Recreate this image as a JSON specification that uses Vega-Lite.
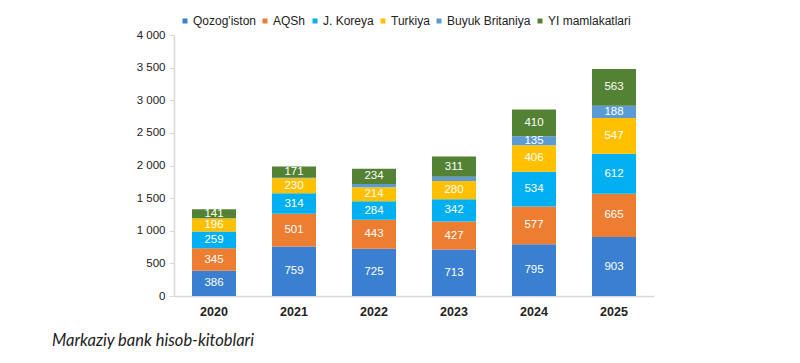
{
  "$schema": "https://vega.github.io/schema/vega-lite/v6.json",
  "autosize": {"type": "none"},
  "width": 480,
  "height": 261,
  "padding": {"left": 174, "top": 35, "right": 146, "bottom": 67},
  "background": "white",
  "config": {
    "view": {"stroke": null},
    "font": "Liberation Sans",
    "axis": {"labelFont": "Liberation Sans"},
    "legend": {"labelFont": "Liberation Sans"}
  },
  "title": {
    "text": "Markaziy bank hisob-kitoblari",
    "orient": "bottom",
    "anchor": "start",
    "frame": "group",
    "dx": -122,
    "offset": 15,
    "fontSize": 16.5,
    "fontStyle": "italic",
    "fontWeight": "normal",
    "font": "Lato",
    "color": "#222222"
  },
  "data": {
    "values": [
      {"year": "2020", "series": "Qozog'iston", "idx": 1, "value": 386},
      {"year": "2020", "series": "AQSh", "idx": 2, "value": 345},
      {"year": "2020", "series": "J. Koreya", "idx": 3, "value": 259},
      {"year": "2020", "series": "Turkiya", "idx": 4, "value": 196},
      {"year": "2020", "series": "Buyuk Britaniya", "idx": 5, "value": 4},
      {"year": "2020", "series": "YI mamlakatlari", "idx": 6, "value": 141},
      {"year": "2021", "series": "Qozog'iston", "idx": 1, "value": 759},
      {"year": "2021", "series": "AQSh", "idx": 2, "value": 501},
      {"year": "2021", "series": "J. Koreya", "idx": 3, "value": 314},
      {"year": "2021", "series": "Turkiya", "idx": 4, "value": 230},
      {"year": "2021", "series": "Buyuk Britaniya", "idx": 5, "value": 10},
      {"year": "2021", "series": "YI mamlakatlari", "idx": 6, "value": 171},
      {"year": "2022", "series": "Qozog'iston", "idx": 1, "value": 725},
      {"year": "2022", "series": "AQSh", "idx": 2, "value": 443},
      {"year": "2022", "series": "J. Koreya", "idx": 3, "value": 284},
      {"year": "2022", "series": "Turkiya", "idx": 4, "value": 214},
      {"year": "2022", "series": "Buyuk Britaniya", "idx": 5, "value": 50},
      {"year": "2022", "series": "YI mamlakatlari", "idx": 6, "value": 234},
      {"year": "2023", "series": "Qozog'iston", "idx": 1, "value": 713},
      {"year": "2023", "series": "AQSh", "idx": 2, "value": 427},
      {"year": "2023", "series": "J. Koreya", "idx": 3, "value": 342},
      {"year": "2023", "series": "Turkiya", "idx": 4, "value": 280},
      {"year": "2023", "series": "Buyuk Britaniya", "idx": 5, "value": 66},
      {"year": "2023", "series": "YI mamlakatlari", "idx": 6, "value": 311},
      {"year": "2024", "series": "Qozog'iston", "idx": 1, "value": 795},
      {"year": "2024", "series": "AQSh", "idx": 2, "value": 577},
      {"year": "2024", "series": "J. Koreya", "idx": 3, "value": 534},
      {"year": "2024", "series": "Turkiya", "idx": 4, "value": 406},
      {"year": "2024", "series": "Buyuk Britaniya", "idx": 5, "value": 135},
      {"year": "2024", "series": "YI mamlakatlari", "idx": 6, "value": 410},
      {"year": "2025", "series": "Qozog'iston", "idx": 1, "value": 903},
      {"year": "2025", "series": "AQSh", "idx": 2, "value": 665},
      {"year": "2025", "series": "J. Koreya", "idx": 3, "value": 612},
      {"year": "2025", "series": "Turkiya", "idx": 4, "value": 547},
      {"year": "2025", "series": "Buyuk Britaniya", "idx": 5, "value": 188},
      {"year": "2025", "series": "YI mamlakatlari", "idx": 6, "value": 563}
    ]
  },
  "transform": [
    {"stack": "value", "groupby": ["year"], "sort": [{"field": "idx", "order": "ascending"}], "as": ["v0", "v1"]}
  ],
  "encoding": {
    "x": {
      "field": "year",
      "type": "nominal",
      "title": null,
      "scale": {"paddingInner": 0.45, "paddingOuter": 0.225},
      "axis": {
        "labelAngle": 0,
        "labelFontWeight": "bold",
        "labelFontSize": 12.5,
        "labelColor": "#222222",
        "labelPadding": 9,
        "ticks": false,
        "domainColor": "#D9D9D9",
        "domainWidth": 1.5
      }
    }
  },
  "layer": [
    {
      "mark": {"type": "bar"},
      "encoding": {
        "y": {
          "field": "v0",
          "type": "quantitative",
          "title": null,
          "scale": {"domain": [0, 4000], "nice": false},
          "axis": {
            "values": [0, 500, 1000, 1500, 2000, 2500, 3000, 3500, 4000],
            "labelExpr": "replace(format(datum.value, ','), ',', ' ')",
            "labelOverlap": false,
            "grid": false,
            "labelFontSize": 11.5,
            "labelColor": "#222222",
            "labelPadding": 4,
            "tickColor": "#D9D9D9",
            "tickSize": 5,
            "domainColor": "#D9D9D9",
            "domainWidth": 1.5
          }
        },
        "y2": {"field": "v1"},
        "color": {
          "field": "series",
          "type": "nominal",
          "sort": ["Qozog'iston", "AQSh", "J. Koreya", "Turkiya", "Buyuk Britaniya", "YI mamlakatlari"],
          "scale": {
            "domain": ["Qozog'iston", "AQSh", "J. Koreya", "Turkiya", "Buyuk Britaniya", "YI mamlakatlari"],
            "range": ["#3A7FD0", "#ED7D31", "#00B0F0", "#FFC000", "#5B9BD5", "#548235"]
          },
          "legend": {
            "title": null,
            "orient": "none",
            "direction": "horizontal",
            "legendX": 5,
            "legendY": -20,
            "symbolType": "square",
            "symbolSize": 25,
            "symbolStrokeWidth": 0,
            "labelFontSize": 12,
            "labelColor": "#222222",
            "labelOffset": 2,
            "columnPadding": 3
          }
        }
      }
    },
    {
      "transform": [
        {"filter": "datum.value >= 100"},
        {"fold": ["v0", "v1"], "as": ["edge", "pos"]},
        {"aggregate": [{"op": "mean", "field": "pos", "as": "mid"}], "groupby": ["year", "series", "value"]}
      ],
      "mark": {"type": "text", "color": "white", "fontSize": 11.5, "baseline": "middle", "align": "center"},
      "encoding": {
        "y": {
          "field": "mid",
          "type": "quantitative",
          "title": null,
          "axis": {
            "values": [0, 500, 1000, 1500, 2000, 2500, 3000, 3500, 4000],
            "labelExpr": "replace(format(datum.value, ','), ',', ' ')",
            "labelOverlap": false,
            "grid": false,
            "labelFontSize": 11.5,
            "labelColor": "#222222",
            "labelPadding": 4,
            "tickColor": "#D9D9D9",
            "tickSize": 5,
            "domainColor": "#D9D9D9",
            "domainWidth": 1.5
          }
        },
        "text": {"field": "value", "type": "quantitative"}
      }
    }
  ]
}
